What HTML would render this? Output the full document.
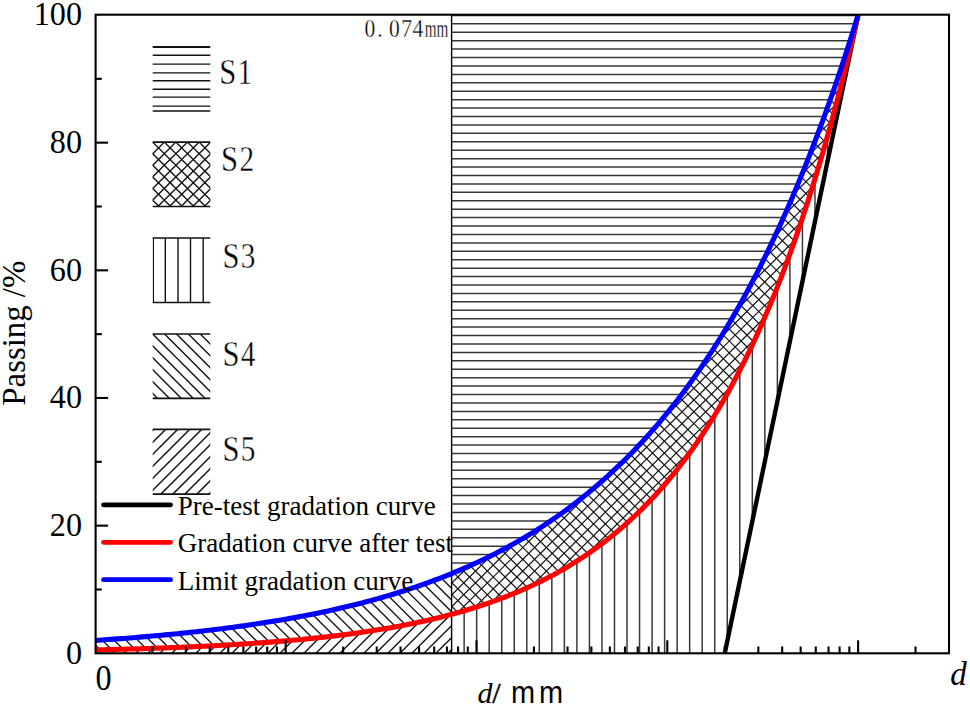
<!DOCTYPE html>
<html>
<head>
<meta charset="utf-8">
<style>
html,body{margin:0;padding:0;background:#fff;}
body{width:970px;height:706px;overflow:hidden;position:relative;}
svg{position:absolute;left:0;top:0;}
.serif{font-family:"Liberation Serif",serif;}
.sans{font-family:"Liberation Sans",sans-serif;}
</style>
</head>
<body>
<svg width="970" height="706" viewBox="0 0 970 706">
<rect x="0" y="0" width="970" height="706" fill="#fff"/>
<defs>
<clipPath id="c1"><polygon points="451.60,15.00 451.55,573.58 454.94,572.18 458.33,570.77 461.71,569.32 465.10,567.85 468.49,566.36 471.88,564.84 475.26,563.29 478.65,561.72 482.04,560.12 485.43,558.49 488.82,556.83 492.20,555.14 495.59,553.43 498.98,551.68 502.37,549.90 505.76,548.09 509.14,546.25 512.53,544.38 515.92,542.48 519.31,540.54 522.70,538.57 526.08,536.56 529.47,534.52 532.86,532.44 536.25,530.33 539.64,528.18 543.02,525.99 546.41,523.77 549.80,521.50 553.19,519.20 556.57,516.85 559.96,514.47 563.35,512.04 566.74,509.57 570.13,507.05 573.51,504.50 576.90,501.89 580.29,499.25 583.68,496.55 587.07,493.81 590.45,491.02 593.84,488.19 597.23,485.30 600.62,482.36 604.01,479.37 607.39,476.33 610.78,473.24 614.17,470.09 617.56,466.88 620.95,463.62 624.33,460.31 627.72,456.93 631.11,453.50 634.50,450.00 637.89,446.45 641.27,442.83 644.66,439.15 648.05,435.41 651.44,431.60 654.82,427.72 658.21,423.77 661.60,419.76 664.99,415.68 668.38,411.52 671.76,407.29 675.15,402.99 678.54,398.62 681.93,394.16 685.32,389.63 688.70,385.02 692.09,380.33 695.48,375.55 698.87,370.70 702.26,365.76 705.64,360.73 709.03,355.61 712.42,350.41 715.81,345.11 719.20,339.72 722.58,334.24 725.97,328.66 729.36,322.98 732.75,317.20 736.13,311.33 739.52,305.35 742.91,299.26 746.30,293.07 749.69,286.77 753.07,280.36 756.46,273.84 759.85,267.21 763.24,260.46 766.63,253.59 770.01,246.60 773.40,239.48 776.79,232.25 780.18,224.89 783.57,217.39 786.95,209.77 790.34,202.02 793.73,194.12 797.12,186.09 800.51,177.92 803.89,169.61 807.28,161.15 810.67,152.55 814.06,143.79 817.44,134.88 820.83,125.82 824.22,116.59 827.61,107.21 831.00,97.66 834.38,87.94 837.77,78.06 841.16,68.00 844.55,57.76 847.94,47.35 851.32,36.75 854.71,25.97 858.10,15.00 858.10,15.00"/></clipPath>
<clipPath id="c2"><polygon points="451.55,573.58 454.94,572.18 458.33,570.77 461.71,569.32 465.10,567.85 468.49,566.36 471.88,564.84 475.26,563.29 478.65,561.72 482.04,560.12 485.43,558.49 488.82,556.83 492.20,555.14 495.59,553.43 498.98,551.68 502.37,549.90 505.76,548.09 509.14,546.25 512.53,544.38 515.92,542.48 519.31,540.54 522.70,538.57 526.08,536.56 529.47,534.52 532.86,532.44 536.25,530.33 539.64,528.18 543.02,525.99 546.41,523.77 549.80,521.50 553.19,519.20 556.57,516.85 559.96,514.47 563.35,512.04 566.74,509.57 570.13,507.05 573.51,504.50 576.90,501.89 580.29,499.25 583.68,496.55 587.07,493.81 590.45,491.02 593.84,488.19 597.23,485.30 600.62,482.36 604.01,479.37 607.39,476.33 610.78,473.24 614.17,470.09 617.56,466.88 620.95,463.62 624.33,460.31 627.72,456.93 631.11,453.50 634.50,450.00 637.89,446.45 641.27,442.83 644.66,439.15 648.05,435.41 651.44,431.60 654.82,427.72 658.21,423.77 661.60,419.76 664.99,415.68 668.38,411.52 671.76,407.29 675.15,402.99 678.54,398.62 681.93,394.16 685.32,389.63 688.70,385.02 692.09,380.33 695.48,375.55 698.87,370.70 702.26,365.76 705.64,360.73 709.03,355.61 712.42,350.41 715.81,345.11 719.20,339.72 722.58,334.24 725.97,328.66 729.36,322.98 732.75,317.20 736.13,311.33 739.52,305.35 742.91,299.26 746.30,293.07 749.69,286.77 753.07,280.36 756.46,273.84 759.85,267.21 763.24,260.46 766.63,253.59 770.01,246.60 773.40,239.48 776.79,232.25 780.18,224.89 783.57,217.39 786.95,209.77 790.34,202.02 793.73,194.12 797.12,186.09 800.51,177.92 803.89,169.61 807.28,161.15 810.67,152.55 814.06,143.79 817.44,134.88 820.83,125.82 824.22,116.59 827.61,107.21 831.00,97.66 834.38,87.94 837.77,78.06 841.16,68.00 844.55,57.76 847.94,47.35 851.32,36.75 854.71,25.97 858.10,15.00 858.10,15.00 854.71,29.70 851.32,44.07 847.94,58.10 844.55,71.81 841.16,85.21 837.77,98.29 834.38,111.08 831.00,123.57 827.61,135.77 824.22,147.69 820.83,159.34 817.44,170.72 814.06,181.83 810.67,192.69 807.28,203.31 803.89,213.67 800.51,223.80 797.12,233.69 793.73,243.36 790.34,252.80 786.95,262.03 783.57,271.04 780.18,279.84 776.79,288.45 773.40,296.85 770.01,305.06 766.63,313.08 763.24,320.92 759.85,328.58 756.46,336.06 753.07,343.37 749.69,350.51 746.30,357.48 742.91,364.29 739.52,370.95 736.13,377.46 732.75,383.81 729.36,390.02 725.97,396.08 722.58,402.01 719.20,407.80 715.81,413.45 712.42,418.98 709.03,424.37 705.64,429.65 702.26,434.80 698.87,439.83 695.48,444.75 692.09,449.55 688.70,454.25 685.32,458.83 681.93,463.31 678.54,467.69 675.15,471.96 671.76,476.14 668.38,480.22 664.99,484.21 661.60,488.10 658.21,491.91 654.82,495.63 651.44,499.26 648.05,502.81 644.66,506.27 641.27,509.66 637.89,512.97 634.50,516.20 631.11,519.36 627.72,522.45 624.33,525.46 620.95,528.41 617.56,531.28 614.17,534.09 610.78,536.84 607.39,539.52 604.01,542.14 600.62,544.70 597.23,547.20 593.84,549.65 590.45,552.04 587.07,554.37 583.68,556.65 580.29,558.87 576.90,561.05 573.51,563.17 570.13,565.25 566.74,567.28 563.35,569.26 559.96,571.20 556.57,573.09 553.19,574.94 549.80,576.74 546.41,578.50 543.02,580.23 539.64,581.91 536.25,583.55 532.86,585.16 529.47,586.73 526.08,588.26 522.70,589.76 519.31,591.23 515.92,592.66 512.53,594.05 509.14,595.42 505.76,596.75 502.37,598.05 498.98,599.33 495.59,600.57 492.20,601.78 488.82,602.97 485.43,604.13 482.04,605.26 478.65,606.37 475.26,607.45 471.88,608.51 468.49,609.54 465.10,610.55 461.71,611.53 458.33,612.49 454.94,613.43 451.55,614.35"/></clipPath>
<clipPath id="c3"><polygon points="451.60,653.30 451.55,614.35 454.94,613.43 458.33,612.49 461.71,611.53 465.10,610.55 468.49,609.54 471.88,608.51 475.26,607.45 478.65,606.37 482.04,605.26 485.43,604.13 488.82,602.97 492.20,601.78 495.59,600.57 498.98,599.33 502.37,598.05 505.76,596.75 509.14,595.42 512.53,594.05 515.92,592.66 519.31,591.23 522.70,589.76 526.08,588.26 529.47,586.73 532.86,585.16 536.25,583.55 539.64,581.91 543.02,580.23 546.41,578.50 549.80,576.74 553.19,574.94 556.57,573.09 559.96,571.20 563.35,569.26 566.74,567.28 570.13,565.25 573.51,563.17 576.90,561.05 580.29,558.87 583.68,556.65 587.07,554.37 590.45,552.04 593.84,549.65 597.23,547.20 600.62,544.70 604.01,542.14 607.39,539.52 610.78,536.84 614.17,534.09 617.56,531.28 620.95,528.41 624.33,525.46 627.72,522.45 631.11,519.36 634.50,516.20 637.89,512.97 641.27,509.66 644.66,506.27 648.05,502.81 651.44,499.26 654.82,495.63 658.21,491.91 661.60,488.10 664.99,484.21 668.38,480.22 671.76,476.14 675.15,471.96 678.54,467.69 681.93,463.31 685.32,458.83 688.70,454.25 692.09,449.55 695.48,444.75 698.87,439.83 702.26,434.80 705.64,429.65 709.03,424.37 712.42,418.98 715.81,413.45 719.20,407.80 722.58,402.01 725.97,396.08 729.36,390.02 732.75,383.81 736.13,377.46 739.52,370.95 742.91,364.29 746.30,357.48 749.69,350.51 753.07,343.37 756.46,336.06 759.85,328.58 763.24,320.92 766.63,313.08 770.01,305.06 773.40,296.85 776.79,288.45 780.18,279.84 783.57,271.04 786.95,262.03 790.34,252.80 793.73,243.36 797.12,233.69 800.51,223.80 803.89,213.67 807.28,203.31 810.67,192.69 814.06,181.83 817.44,170.72 820.83,159.34 824.22,147.69 827.61,135.77 831.00,123.57 834.38,111.08 837.77,98.29 841.16,85.21 844.55,71.81 847.94,58.10 851.32,44.07 854.71,29.70 858.10,15.00 724.74,653.30"/></clipPath>
<clipPath id="c4"><polygon points="94.90,640.45 97.87,640.25 100.84,640.05 103.82,639.85 106.79,639.64 109.76,639.43 112.73,639.22 115.70,639.00 118.68,638.78 121.65,638.56 124.62,638.34 127.59,638.11 130.56,637.87 133.54,637.64 136.51,637.40 139.48,637.15 142.45,636.91 145.43,636.65 148.40,636.40 151.37,636.14 154.34,635.88 157.31,635.61 160.29,635.34 163.26,635.06 166.23,634.78 169.20,634.50 172.17,634.21 175.15,633.92 178.12,633.62 181.09,633.32 184.06,633.02 187.03,632.70 190.01,632.39 192.98,632.07 195.95,631.74 198.92,631.41 201.89,631.08 204.87,630.74 207.84,630.39 210.81,630.04 213.78,629.68 216.76,629.32 219.73,628.95 222.70,628.58 225.67,628.20 228.64,627.82 231.62,627.43 234.59,627.03 237.56,626.63 240.53,626.22 243.50,625.80 246.48,625.38 249.45,624.96 252.42,624.52 255.39,624.08 258.36,623.63 261.34,623.18 264.31,622.72 267.28,622.25 270.25,621.77 273.22,621.29 276.20,620.80 279.17,620.30 282.14,619.79 285.11,619.28 288.09,618.76 291.06,618.23 294.03,617.69 297.00,617.15 299.97,616.59 302.95,616.03 305.92,615.46 308.89,614.88 311.86,614.29 314.83,613.69 317.81,613.09 320.78,612.47 323.75,611.84 326.72,611.21 329.69,610.56 332.67,609.91 335.64,609.24 338.61,608.57 341.58,607.88 344.55,607.19 347.53,606.48 350.50,605.76 353.47,605.04 356.44,604.30 359.41,603.55 362.39,602.78 365.36,602.01 368.33,601.22 371.30,600.42 374.28,599.61 377.25,598.79 380.22,597.96 383.19,597.11 386.16,596.25 389.14,595.37 392.11,594.49 395.08,593.58 398.05,592.67 401.02,591.74 404.00,590.80 406.97,589.84 409.94,588.87 412.91,587.88 415.88,586.88 418.86,585.86 421.83,584.82 424.80,583.78 427.77,582.71 430.74,581.63 433.72,580.53 436.69,579.42 439.66,578.28 442.63,577.13 445.61,575.97 448.58,574.78 451.55,573.58 451.55,614.35 448.58,615.14 445.61,615.91 442.63,616.67 439.66,617.41 436.69,618.14 433.72,618.85 430.74,619.55 427.77,620.23 424.80,620.90 421.83,621.55 418.86,622.20 415.88,622.83 412.91,623.44 409.94,624.05 406.97,624.64 404.00,625.22 401.02,625.79 398.05,626.34 395.08,626.89 392.11,627.42 389.14,627.95 386.16,628.46 383.19,628.96 380.22,629.46 377.25,629.94 374.28,630.41 371.30,630.87 368.33,631.33 365.36,631.77 362.39,632.21 359.41,632.63 356.44,633.05 353.47,633.46 350.50,633.86 347.53,634.26 344.55,634.64 341.58,635.02 338.61,635.39 335.64,635.75 332.67,636.11 329.69,636.46 326.72,636.80 323.75,637.13 320.78,637.46 317.81,637.78 314.83,638.09 311.86,638.40 308.89,638.70 305.92,639.00 302.95,639.29 299.97,639.57 297.00,639.85 294.03,640.12 291.06,640.39 288.09,640.65 285.11,640.90 282.14,641.16 279.17,641.40 276.20,641.64 273.22,641.88 270.25,642.11 267.28,642.34 264.31,642.56 261.34,642.77 258.36,642.99 255.39,643.20 252.42,643.40 249.45,643.60 246.48,643.80 243.50,643.99 240.53,644.18 237.56,644.36 234.59,644.54 231.62,644.72 228.64,644.89 225.67,645.06 222.70,645.23 219.73,645.39 216.76,645.55 213.78,645.71 210.81,645.86 207.84,646.02 204.87,646.16 201.89,646.31 198.92,646.45 195.95,646.59 192.98,646.72 190.01,646.86 187.03,646.99 184.06,647.11 181.09,647.24 178.12,647.36 175.15,647.48 172.17,647.60 169.20,647.72 166.23,647.83 163.26,647.94 160.29,648.05 157.31,648.15 154.34,648.26 151.37,648.36 148.40,648.46 145.43,648.56 142.45,648.65 139.48,648.75 136.51,648.84 133.54,648.93 130.56,649.02 127.59,649.11 124.62,649.19 121.65,649.27 118.68,649.35 115.70,649.43 112.73,649.51 109.76,649.59 106.79,649.66 103.82,649.74 100.84,649.81 97.87,649.88 94.90,649.95"/></clipPath>
<clipPath id="c5"><polygon points="94.90,653.30 94.90,649.95 97.87,649.88 100.84,649.81 103.82,649.74 106.79,649.66 109.76,649.59 112.73,649.51 115.70,649.43 118.68,649.35 121.65,649.27 124.62,649.19 127.59,649.11 130.56,649.02 133.54,648.93 136.51,648.84 139.48,648.75 142.45,648.65 145.43,648.56 148.40,648.46 151.37,648.36 154.34,648.26 157.31,648.15 160.29,648.05 163.26,647.94 166.23,647.83 169.20,647.72 172.17,647.60 175.15,647.48 178.12,647.36 181.09,647.24 184.06,647.11 187.03,646.99 190.01,646.86 192.98,646.72 195.95,646.59 198.92,646.45 201.89,646.31 204.87,646.16 207.84,646.02 210.81,645.86 213.78,645.71 216.76,645.55 219.73,645.39 222.70,645.23 225.67,645.06 228.64,644.89 231.62,644.72 234.59,644.54 237.56,644.36 240.53,644.18 243.50,643.99 246.48,643.80 249.45,643.60 252.42,643.40 255.39,643.20 258.36,642.99 261.34,642.77 264.31,642.56 267.28,642.34 270.25,642.11 273.22,641.88 276.20,641.64 279.17,641.40 282.14,641.16 285.11,640.90 288.09,640.65 291.06,640.39 294.03,640.12 297.00,639.85 299.97,639.57 302.95,639.29 305.92,639.00 308.89,638.70 311.86,638.40 314.83,638.09 317.81,637.78 320.78,637.46 323.75,637.13 326.72,636.80 329.69,636.46 332.67,636.11 335.64,635.75 338.61,635.39 341.58,635.02 344.55,634.64 347.53,634.26 350.50,633.86 353.47,633.46 356.44,633.05 359.41,632.63 362.39,632.21 365.36,631.77 368.33,631.33 371.30,630.87 374.28,630.41 377.25,629.94 380.22,629.46 383.19,628.96 386.16,628.46 389.14,627.95 392.11,627.42 395.08,626.89 398.05,626.34 401.02,625.79 404.00,625.22 406.97,624.64 409.94,624.05 412.91,623.44 415.88,622.83 418.86,622.20 421.83,621.55 424.80,620.90 427.77,620.23 430.74,619.55 433.72,618.85 436.69,618.14 439.66,617.41 442.63,616.67 445.61,615.91 448.58,615.14 451.55,614.35 451.60,653.30"/></clipPath>
</defs>
<g clip-path="url(#c1)" stroke="#383838" stroke-width="1.5">
<line x1="451.60" y1="15.40" x2="860.10" y2="15.40"/>
<line x1="451.60" y1="23.83" x2="860.10" y2="23.83"/>
<line x1="451.60" y1="32.25" x2="860.10" y2="32.25"/>
<line x1="451.60" y1="40.68" x2="860.10" y2="40.68"/>
<line x1="451.60" y1="49.10" x2="860.10" y2="49.10"/>
<line x1="451.60" y1="57.52" x2="860.10" y2="57.52"/>
<line x1="451.60" y1="65.95" x2="860.10" y2="65.95"/>
<line x1="451.60" y1="74.38" x2="860.10" y2="74.38"/>
<line x1="451.60" y1="82.80" x2="860.10" y2="82.80"/>
<line x1="451.60" y1="91.23" x2="860.10" y2="91.23"/>
<line x1="451.60" y1="99.65" x2="860.10" y2="99.65"/>
<line x1="451.60" y1="108.08" x2="860.10" y2="108.08"/>
<line x1="451.60" y1="116.50" x2="860.10" y2="116.50"/>
<line x1="451.60" y1="124.93" x2="860.10" y2="124.93"/>
<line x1="451.60" y1="133.35" x2="860.10" y2="133.35"/>
<line x1="451.60" y1="141.78" x2="860.10" y2="141.78"/>
<line x1="451.60" y1="150.20" x2="860.10" y2="150.20"/>
<line x1="451.60" y1="158.63" x2="860.10" y2="158.63"/>
<line x1="451.60" y1="167.05" x2="860.10" y2="167.05"/>
<line x1="451.60" y1="175.48" x2="860.10" y2="175.48"/>
<line x1="451.60" y1="183.90" x2="860.10" y2="183.90"/>
<line x1="451.60" y1="192.33" x2="860.10" y2="192.33"/>
<line x1="451.60" y1="200.75" x2="860.10" y2="200.75"/>
<line x1="451.60" y1="209.18" x2="860.10" y2="209.18"/>
<line x1="451.60" y1="217.60" x2="860.10" y2="217.60"/>
<line x1="451.60" y1="226.03" x2="860.10" y2="226.03"/>
<line x1="451.60" y1="234.45" x2="860.10" y2="234.45"/>
<line x1="451.60" y1="242.88" x2="860.10" y2="242.88"/>
<line x1="451.60" y1="251.30" x2="860.10" y2="251.30"/>
<line x1="451.60" y1="259.73" x2="860.10" y2="259.73"/>
<line x1="451.60" y1="268.15" x2="860.10" y2="268.15"/>
<line x1="451.60" y1="276.57" x2="860.10" y2="276.57"/>
<line x1="451.60" y1="285.00" x2="860.10" y2="285.00"/>
<line x1="451.60" y1="293.43" x2="860.10" y2="293.43"/>
<line x1="451.60" y1="301.85" x2="860.10" y2="301.85"/>
<line x1="451.60" y1="310.27" x2="860.10" y2="310.27"/>
<line x1="451.60" y1="318.70" x2="860.10" y2="318.70"/>
<line x1="451.60" y1="327.12" x2="860.10" y2="327.12"/>
<line x1="451.60" y1="335.55" x2="860.10" y2="335.55"/>
<line x1="451.60" y1="343.98" x2="860.10" y2="343.98"/>
<line x1="451.60" y1="352.40" x2="860.10" y2="352.40"/>
<line x1="451.60" y1="360.82" x2="860.10" y2="360.82"/>
<line x1="451.60" y1="369.25" x2="860.10" y2="369.25"/>
<line x1="451.60" y1="377.68" x2="860.10" y2="377.68"/>
<line x1="451.60" y1="386.10" x2="860.10" y2="386.10"/>
<line x1="451.60" y1="394.53" x2="860.10" y2="394.53"/>
<line x1="451.60" y1="402.95" x2="860.10" y2="402.95"/>
<line x1="451.60" y1="411.38" x2="860.10" y2="411.38"/>
<line x1="451.60" y1="419.80" x2="860.10" y2="419.80"/>
<line x1="451.60" y1="428.23" x2="860.10" y2="428.23"/>
<line x1="451.60" y1="436.65" x2="860.10" y2="436.65"/>
<line x1="451.60" y1="445.07" x2="860.10" y2="445.07"/>
<line x1="451.60" y1="453.50" x2="860.10" y2="453.50"/>
<line x1="451.60" y1="461.93" x2="860.10" y2="461.93"/>
<line x1="451.60" y1="470.35" x2="860.10" y2="470.35"/>
<line x1="451.60" y1="478.78" x2="860.10" y2="478.78"/>
<line x1="451.60" y1="487.20" x2="860.10" y2="487.20"/>
<line x1="451.60" y1="495.62" x2="860.10" y2="495.62"/>
<line x1="451.60" y1="504.05" x2="860.10" y2="504.05"/>
<line x1="451.60" y1="512.48" x2="860.10" y2="512.48"/>
<line x1="451.60" y1="520.90" x2="860.10" y2="520.90"/>
<line x1="451.60" y1="529.33" x2="860.10" y2="529.33"/>
<line x1="451.60" y1="537.75" x2="860.10" y2="537.75"/>
<line x1="451.60" y1="546.18" x2="860.10" y2="546.18"/>
<line x1="451.60" y1="554.60" x2="860.10" y2="554.60"/>
<line x1="451.60" y1="563.02" x2="860.10" y2="563.02"/>
<line x1="451.60" y1="571.45" x2="860.10" y2="571.45"/>
<line x1="451.60" y1="579.88" x2="860.10" y2="579.88"/>
<line x1="451.60" y1="588.30" x2="860.10" y2="588.30"/>
<line x1="451.60" y1="596.73" x2="860.10" y2="596.73"/>
<line x1="451.60" y1="605.15" x2="860.10" y2="605.15"/>
<line x1="451.60" y1="613.58" x2="860.10" y2="613.58"/>
<line x1="451.60" y1="622.00" x2="860.10" y2="622.00"/>
<line x1="451.60" y1="630.43" x2="860.10" y2="630.43"/>
<line x1="451.60" y1="638.85" x2="860.10" y2="638.85"/>
<line x1="451.60" y1="647.27" x2="860.10" y2="647.27"/>
</g>
<g clip-path="url(#c2)" stroke="#111" stroke-width="1.2">
<line x1="-196.63" y1="653.30" x2="441.67" y2="15.00"/>
<line x1="-184.83" y1="653.30" x2="453.47" y2="15.00"/>
<line x1="-173.03" y1="653.30" x2="465.27" y2="15.00"/>
<line x1="-161.23" y1="653.30" x2="477.07" y2="15.00"/>
<line x1="-149.43" y1="653.30" x2="488.87" y2="15.00"/>
<line x1="-137.63" y1="653.30" x2="500.67" y2="15.00"/>
<line x1="-125.83" y1="653.30" x2="512.47" y2="15.00"/>
<line x1="-114.03" y1="653.30" x2="524.27" y2="15.00"/>
<line x1="-102.23" y1="653.30" x2="536.07" y2="15.00"/>
<line x1="-90.43" y1="653.30" x2="547.87" y2="15.00"/>
<line x1="-78.63" y1="653.30" x2="559.67" y2="15.00"/>
<line x1="-66.83" y1="653.30" x2="571.47" y2="15.00"/>
<line x1="-55.03" y1="653.30" x2="583.27" y2="15.00"/>
<line x1="-43.23" y1="653.30" x2="595.07" y2="15.00"/>
<line x1="-31.43" y1="653.30" x2="606.87" y2="15.00"/>
<line x1="-19.63" y1="653.30" x2="618.67" y2="15.00"/>
<line x1="-7.83" y1="653.30" x2="630.47" y2="15.00"/>
<line x1="3.97" y1="653.30" x2="642.27" y2="15.00"/>
<line x1="15.77" y1="653.30" x2="654.07" y2="15.00"/>
<line x1="27.57" y1="653.30" x2="665.87" y2="15.00"/>
<line x1="39.37" y1="653.30" x2="677.67" y2="15.00"/>
<line x1="51.17" y1="653.30" x2="689.47" y2="15.00"/>
<line x1="62.97" y1="653.30" x2="701.27" y2="15.00"/>
<line x1="74.77" y1="653.30" x2="713.07" y2="15.00"/>
<line x1="86.57" y1="653.30" x2="724.87" y2="15.00"/>
<line x1="98.37" y1="653.30" x2="736.67" y2="15.00"/>
<line x1="110.17" y1="653.30" x2="748.47" y2="15.00"/>
<line x1="121.97" y1="653.30" x2="760.27" y2="15.00"/>
<line x1="133.77" y1="653.30" x2="772.07" y2="15.00"/>
<line x1="145.57" y1="653.30" x2="783.87" y2="15.00"/>
<line x1="157.37" y1="653.30" x2="795.67" y2="15.00"/>
<line x1="169.17" y1="653.30" x2="807.47" y2="15.00"/>
<line x1="180.97" y1="653.30" x2="819.27" y2="15.00"/>
<line x1="192.77" y1="653.30" x2="831.07" y2="15.00"/>
<line x1="204.57" y1="653.30" x2="842.87" y2="15.00"/>
<line x1="216.37" y1="653.30" x2="854.67" y2="15.00"/>
<line x1="228.17" y1="653.30" x2="866.47" y2="15.00"/>
<line x1="239.97" y1="653.30" x2="878.27" y2="15.00"/>
<line x1="251.77" y1="653.30" x2="890.07" y2="15.00"/>
<line x1="263.57" y1="653.30" x2="901.87" y2="15.00"/>
<line x1="275.37" y1="653.30" x2="913.67" y2="15.00"/>
<line x1="287.17" y1="653.30" x2="925.47" y2="15.00"/>
<line x1="298.97" y1="653.30" x2="937.27" y2="15.00"/>
<line x1="310.77" y1="653.30" x2="949.07" y2="15.00"/>
<line x1="322.57" y1="653.30" x2="960.87" y2="15.00"/>
<line x1="334.37" y1="653.30" x2="972.67" y2="15.00"/>
<line x1="346.17" y1="653.30" x2="984.47" y2="15.00"/>
<line x1="357.97" y1="653.30" x2="996.27" y2="15.00"/>
<line x1="369.77" y1="653.30" x2="1008.07" y2="15.00"/>
<line x1="381.57" y1="653.30" x2="1019.87" y2="15.00"/>
<line x1="393.37" y1="653.30" x2="1031.67" y2="15.00"/>
<line x1="405.17" y1="653.30" x2="1043.47" y2="15.00"/>
<line x1="416.97" y1="653.30" x2="1055.27" y2="15.00"/>
<line x1="428.77" y1="653.30" x2="1067.07" y2="15.00"/>
<line x1="440.57" y1="653.30" x2="1078.87" y2="15.00"/>
<line x1="452.37" y1="653.30" x2="1090.67" y2="15.00"/>
<line x1="464.17" y1="653.30" x2="1102.47" y2="15.00"/>
<line x1="475.97" y1="653.30" x2="1114.27" y2="15.00"/>
<line x1="487.77" y1="653.30" x2="1126.07" y2="15.00"/>
<line x1="499.57" y1="653.30" x2="1137.87" y2="15.00"/>
<line x1="511.37" y1="653.30" x2="1149.67" y2="15.00"/>
<line x1="523.17" y1="653.30" x2="1161.47" y2="15.00"/>
<line x1="534.97" y1="653.30" x2="1173.27" y2="15.00"/>
<line x1="546.77" y1="653.30" x2="1185.07" y2="15.00"/>
<line x1="558.57" y1="653.30" x2="1196.87" y2="15.00"/>
<line x1="570.37" y1="653.30" x2="1208.67" y2="15.00"/>
<line x1="582.17" y1="653.30" x2="1220.47" y2="15.00"/>
<line x1="593.97" y1="653.30" x2="1232.27" y2="15.00"/>
<line x1="605.77" y1="653.30" x2="1244.07" y2="15.00"/>
<line x1="617.57" y1="653.30" x2="1255.87" y2="15.00"/>
<line x1="629.37" y1="653.30" x2="1267.67" y2="15.00"/>
<line x1="641.17" y1="653.30" x2="1279.47" y2="15.00"/>
<line x1="652.97" y1="653.30" x2="1291.27" y2="15.00"/>
<line x1="664.77" y1="653.30" x2="1303.07" y2="15.00"/>
<line x1="676.57" y1="653.30" x2="1314.87" y2="15.00"/>
<line x1="688.37" y1="653.30" x2="1326.67" y2="15.00"/>
<line x1="700.17" y1="653.30" x2="1338.47" y2="15.00"/>
<line x1="711.97" y1="653.30" x2="1350.27" y2="15.00"/>
<line x1="723.77" y1="653.30" x2="1362.07" y2="15.00"/>
<line x1="735.57" y1="653.30" x2="1373.87" y2="15.00"/>
<line x1="747.37" y1="653.30" x2="1385.67" y2="15.00"/>
<line x1="759.17" y1="653.30" x2="1397.47" y2="15.00"/>
<line x1="770.97" y1="653.30" x2="1409.27" y2="15.00"/>
<line x1="782.77" y1="653.30" x2="1421.07" y2="15.00"/>
<line x1="794.57" y1="653.30" x2="1432.87" y2="15.00"/>
<line x1="806.37" y1="653.30" x2="1444.67" y2="15.00"/>
<line x1="818.17" y1="653.30" x2="1456.47" y2="15.00"/>
<line x1="829.97" y1="653.30" x2="1468.27" y2="15.00"/>
<line x1="841.77" y1="653.30" x2="1480.07" y2="15.00"/>
<line x1="853.57" y1="653.30" x2="1491.87" y2="15.00"/>
<line x1="-186.73" y1="15.00" x2="451.57" y2="653.30"/>
<line x1="-174.93" y1="15.00" x2="463.37" y2="653.30"/>
<line x1="-163.13" y1="15.00" x2="475.17" y2="653.30"/>
<line x1="-151.33" y1="15.00" x2="486.97" y2="653.30"/>
<line x1="-139.53" y1="15.00" x2="498.77" y2="653.30"/>
<line x1="-127.73" y1="15.00" x2="510.57" y2="653.30"/>
<line x1="-115.93" y1="15.00" x2="522.37" y2="653.30"/>
<line x1="-104.13" y1="15.00" x2="534.17" y2="653.30"/>
<line x1="-92.33" y1="15.00" x2="545.97" y2="653.30"/>
<line x1="-80.53" y1="15.00" x2="557.77" y2="653.30"/>
<line x1="-68.73" y1="15.00" x2="569.57" y2="653.30"/>
<line x1="-56.93" y1="15.00" x2="581.37" y2="653.30"/>
<line x1="-45.13" y1="15.00" x2="593.17" y2="653.30"/>
<line x1="-33.33" y1="15.00" x2="604.97" y2="653.30"/>
<line x1="-21.53" y1="15.00" x2="616.77" y2="653.30"/>
<line x1="-9.73" y1="15.00" x2="628.57" y2="653.30"/>
<line x1="2.07" y1="15.00" x2="640.37" y2="653.30"/>
<line x1="13.87" y1="15.00" x2="652.17" y2="653.30"/>
<line x1="25.67" y1="15.00" x2="663.97" y2="653.30"/>
<line x1="37.47" y1="15.00" x2="675.77" y2="653.30"/>
<line x1="49.27" y1="15.00" x2="687.57" y2="653.30"/>
<line x1="61.07" y1="15.00" x2="699.37" y2="653.30"/>
<line x1="72.87" y1="15.00" x2="711.17" y2="653.30"/>
<line x1="84.67" y1="15.00" x2="722.97" y2="653.30"/>
<line x1="96.47" y1="15.00" x2="734.77" y2="653.30"/>
<line x1="108.27" y1="15.00" x2="746.57" y2="653.30"/>
<line x1="120.07" y1="15.00" x2="758.37" y2="653.30"/>
<line x1="131.87" y1="15.00" x2="770.17" y2="653.30"/>
<line x1="143.67" y1="15.00" x2="781.97" y2="653.30"/>
<line x1="155.47" y1="15.00" x2="793.77" y2="653.30"/>
<line x1="167.27" y1="15.00" x2="805.57" y2="653.30"/>
<line x1="179.07" y1="15.00" x2="817.37" y2="653.30"/>
<line x1="190.87" y1="15.00" x2="829.17" y2="653.30"/>
<line x1="202.67" y1="15.00" x2="840.97" y2="653.30"/>
<line x1="214.47" y1="15.00" x2="852.77" y2="653.30"/>
<line x1="226.27" y1="15.00" x2="864.57" y2="653.30"/>
<line x1="238.07" y1="15.00" x2="876.37" y2="653.30"/>
<line x1="249.87" y1="15.00" x2="888.17" y2="653.30"/>
<line x1="261.67" y1="15.00" x2="899.97" y2="653.30"/>
<line x1="273.47" y1="15.00" x2="911.77" y2="653.30"/>
<line x1="285.27" y1="15.00" x2="923.57" y2="653.30"/>
<line x1="297.07" y1="15.00" x2="935.37" y2="653.30"/>
<line x1="308.87" y1="15.00" x2="947.17" y2="653.30"/>
<line x1="320.67" y1="15.00" x2="958.97" y2="653.30"/>
<line x1="332.47" y1="15.00" x2="970.77" y2="653.30"/>
<line x1="344.27" y1="15.00" x2="982.57" y2="653.30"/>
<line x1="356.07" y1="15.00" x2="994.37" y2="653.30"/>
<line x1="367.87" y1="15.00" x2="1006.17" y2="653.30"/>
<line x1="379.67" y1="15.00" x2="1017.97" y2="653.30"/>
<line x1="391.47" y1="15.00" x2="1029.77" y2="653.30"/>
<line x1="403.27" y1="15.00" x2="1041.57" y2="653.30"/>
<line x1="415.07" y1="15.00" x2="1053.37" y2="653.30"/>
<line x1="426.87" y1="15.00" x2="1065.17" y2="653.30"/>
<line x1="438.67" y1="15.00" x2="1076.97" y2="653.30"/>
<line x1="450.47" y1="15.00" x2="1088.77" y2="653.30"/>
<line x1="462.27" y1="15.00" x2="1100.57" y2="653.30"/>
<line x1="474.07" y1="15.00" x2="1112.37" y2="653.30"/>
<line x1="485.87" y1="15.00" x2="1124.17" y2="653.30"/>
<line x1="497.67" y1="15.00" x2="1135.97" y2="653.30"/>
<line x1="509.47" y1="15.00" x2="1147.77" y2="653.30"/>
<line x1="521.27" y1="15.00" x2="1159.57" y2="653.30"/>
<line x1="533.07" y1="15.00" x2="1171.37" y2="653.30"/>
<line x1="544.87" y1="15.00" x2="1183.17" y2="653.30"/>
<line x1="556.67" y1="15.00" x2="1194.97" y2="653.30"/>
<line x1="568.47" y1="15.00" x2="1206.77" y2="653.30"/>
<line x1="580.27" y1="15.00" x2="1218.57" y2="653.30"/>
<line x1="592.07" y1="15.00" x2="1230.37" y2="653.30"/>
<line x1="603.87" y1="15.00" x2="1242.17" y2="653.30"/>
<line x1="615.67" y1="15.00" x2="1253.97" y2="653.30"/>
<line x1="627.47" y1="15.00" x2="1265.77" y2="653.30"/>
<line x1="639.27" y1="15.00" x2="1277.57" y2="653.30"/>
<line x1="651.07" y1="15.00" x2="1289.37" y2="653.30"/>
<line x1="662.87" y1="15.00" x2="1301.17" y2="653.30"/>
<line x1="674.67" y1="15.00" x2="1312.97" y2="653.30"/>
<line x1="686.47" y1="15.00" x2="1324.77" y2="653.30"/>
<line x1="698.27" y1="15.00" x2="1336.57" y2="653.30"/>
<line x1="710.07" y1="15.00" x2="1348.37" y2="653.30"/>
<line x1="721.87" y1="15.00" x2="1360.17" y2="653.30"/>
<line x1="733.67" y1="15.00" x2="1371.97" y2="653.30"/>
<line x1="745.47" y1="15.00" x2="1383.77" y2="653.30"/>
<line x1="757.27" y1="15.00" x2="1395.57" y2="653.30"/>
<line x1="769.07" y1="15.00" x2="1407.37" y2="653.30"/>
<line x1="780.87" y1="15.00" x2="1419.17" y2="653.30"/>
<line x1="792.67" y1="15.00" x2="1430.97" y2="653.30"/>
<line x1="804.47" y1="15.00" x2="1442.77" y2="653.30"/>
<line x1="816.27" y1="15.00" x2="1454.57" y2="653.30"/>
<line x1="828.07" y1="15.00" x2="1466.37" y2="653.30"/>
<line x1="839.87" y1="15.00" x2="1478.17" y2="653.30"/>
<line x1="851.67" y1="15.00" x2="1489.97" y2="653.30"/>
</g>
<g clip-path="url(#c3)" stroke="#383838" stroke-width="1.5">
<line x1="464.13" y1="15.00" x2="464.13" y2="653.30"/>
<line x1="476.66" y1="15.00" x2="476.66" y2="653.30"/>
<line x1="489.19" y1="15.00" x2="489.19" y2="653.30"/>
<line x1="501.72" y1="15.00" x2="501.72" y2="653.30"/>
<line x1="514.25" y1="15.00" x2="514.25" y2="653.30"/>
<line x1="526.78" y1="15.00" x2="526.78" y2="653.30"/>
<line x1="539.31" y1="15.00" x2="539.31" y2="653.30"/>
<line x1="551.84" y1="15.00" x2="551.84" y2="653.30"/>
<line x1="564.37" y1="15.00" x2="564.37" y2="653.30"/>
<line x1="576.90" y1="15.00" x2="576.90" y2="653.30"/>
<line x1="589.43" y1="15.00" x2="589.43" y2="653.30"/>
<line x1="601.96" y1="15.00" x2="601.96" y2="653.30"/>
<line x1="614.49" y1="15.00" x2="614.49" y2="653.30"/>
<line x1="627.02" y1="15.00" x2="627.02" y2="653.30"/>
<line x1="639.55" y1="15.00" x2="639.55" y2="653.30"/>
<line x1="652.08" y1="15.00" x2="652.08" y2="653.30"/>
<line x1="664.61" y1="15.00" x2="664.61" y2="653.30"/>
<line x1="677.14" y1="15.00" x2="677.14" y2="653.30"/>
<line x1="689.67" y1="15.00" x2="689.67" y2="653.30"/>
<line x1="702.20" y1="15.00" x2="702.20" y2="653.30"/>
<line x1="714.73" y1="15.00" x2="714.73" y2="653.30"/>
<line x1="727.26" y1="15.00" x2="727.26" y2="653.30"/>
<line x1="739.79" y1="15.00" x2="739.79" y2="653.30"/>
<line x1="752.32" y1="15.00" x2="752.32" y2="653.30"/>
<line x1="764.85" y1="15.00" x2="764.85" y2="653.30"/>
<line x1="777.38" y1="15.00" x2="777.38" y2="653.30"/>
<line x1="789.91" y1="15.00" x2="789.91" y2="653.30"/>
<line x1="802.44" y1="15.00" x2="802.44" y2="653.30"/>
<line x1="814.97" y1="15.00" x2="814.97" y2="653.30"/>
<line x1="827.50" y1="15.00" x2="827.50" y2="653.30"/>
<line x1="840.03" y1="15.00" x2="840.03" y2="653.30"/>
<line x1="852.56" y1="15.00" x2="852.56" y2="653.30"/>
</g>
<g clip-path="url(#c4)" stroke="#111" stroke-width="1.35">
<line x1="-61.50" y1="500.00" x2="91.80" y2="653.30"/>
<line x1="-49.70" y1="500.00" x2="103.60" y2="653.30"/>
<line x1="-37.90" y1="500.00" x2="115.40" y2="653.30"/>
<line x1="-26.10" y1="500.00" x2="127.20" y2="653.30"/>
<line x1="-14.30" y1="500.00" x2="139.00" y2="653.30"/>
<line x1="-2.50" y1="500.00" x2="150.80" y2="653.30"/>
<line x1="9.30" y1="500.00" x2="162.60" y2="653.30"/>
<line x1="21.10" y1="500.00" x2="174.40" y2="653.30"/>
<line x1="32.90" y1="500.00" x2="186.20" y2="653.30"/>
<line x1="44.70" y1="500.00" x2="198.00" y2="653.30"/>
<line x1="56.50" y1="500.00" x2="209.80" y2="653.30"/>
<line x1="68.30" y1="500.00" x2="221.60" y2="653.30"/>
<line x1="80.10" y1="500.00" x2="233.40" y2="653.30"/>
<line x1="91.90" y1="500.00" x2="245.20" y2="653.30"/>
<line x1="103.70" y1="500.00" x2="257.00" y2="653.30"/>
<line x1="115.50" y1="500.00" x2="268.80" y2="653.30"/>
<line x1="127.30" y1="500.00" x2="280.60" y2="653.30"/>
<line x1="139.10" y1="500.00" x2="292.40" y2="653.30"/>
<line x1="150.90" y1="500.00" x2="304.20" y2="653.30"/>
<line x1="162.70" y1="500.00" x2="316.00" y2="653.30"/>
<line x1="174.50" y1="500.00" x2="327.80" y2="653.30"/>
<line x1="186.30" y1="500.00" x2="339.60" y2="653.30"/>
<line x1="198.10" y1="500.00" x2="351.40" y2="653.30"/>
<line x1="209.90" y1="500.00" x2="363.20" y2="653.30"/>
<line x1="221.70" y1="500.00" x2="375.00" y2="653.30"/>
<line x1="233.50" y1="500.00" x2="386.80" y2="653.30"/>
<line x1="245.30" y1="500.00" x2="398.60" y2="653.30"/>
<line x1="257.10" y1="500.00" x2="410.40" y2="653.30"/>
<line x1="268.90" y1="500.00" x2="422.20" y2="653.30"/>
<line x1="280.70" y1="500.00" x2="434.00" y2="653.30"/>
<line x1="292.50" y1="500.00" x2="445.80" y2="653.30"/>
<line x1="304.30" y1="500.00" x2="457.60" y2="653.30"/>
<line x1="316.10" y1="500.00" x2="469.40" y2="653.30"/>
<line x1="327.90" y1="500.00" x2="481.20" y2="653.30"/>
<line x1="339.70" y1="500.00" x2="493.00" y2="653.30"/>
<line x1="351.50" y1="500.00" x2="504.80" y2="653.30"/>
<line x1="363.30" y1="500.00" x2="516.60" y2="653.30"/>
<line x1="375.10" y1="500.00" x2="528.40" y2="653.30"/>
<line x1="386.90" y1="500.00" x2="540.20" y2="653.30"/>
<line x1="398.70" y1="500.00" x2="552.00" y2="653.30"/>
<line x1="410.50" y1="500.00" x2="563.80" y2="653.30"/>
<line x1="422.30" y1="500.00" x2="575.60" y2="653.30"/>
<line x1="434.10" y1="500.00" x2="587.40" y2="653.30"/>
<line x1="445.90" y1="500.00" x2="599.20" y2="653.30"/>
</g>
<g clip-path="url(#c5)" stroke="#111" stroke-width="1.35">
<line x1="-8.10" y1="653.30" x2="85.20" y2="560.00"/>
<line x1="3.90" y1="653.30" x2="97.20" y2="560.00"/>
<line x1="15.90" y1="653.30" x2="109.20" y2="560.00"/>
<line x1="27.90" y1="653.30" x2="121.20" y2="560.00"/>
<line x1="39.90" y1="653.30" x2="133.20" y2="560.00"/>
<line x1="51.90" y1="653.30" x2="145.20" y2="560.00"/>
<line x1="63.90" y1="653.30" x2="157.20" y2="560.00"/>
<line x1="75.90" y1="653.30" x2="169.20" y2="560.00"/>
<line x1="87.90" y1="653.30" x2="181.20" y2="560.00"/>
<line x1="99.90" y1="653.30" x2="193.20" y2="560.00"/>
<line x1="111.90" y1="653.30" x2="205.20" y2="560.00"/>
<line x1="123.90" y1="653.30" x2="217.20" y2="560.00"/>
<line x1="135.90" y1="653.30" x2="229.20" y2="560.00"/>
<line x1="147.90" y1="653.30" x2="241.20" y2="560.00"/>
<line x1="159.90" y1="653.30" x2="253.20" y2="560.00"/>
<line x1="171.90" y1="653.30" x2="265.20" y2="560.00"/>
<line x1="183.90" y1="653.30" x2="277.20" y2="560.00"/>
<line x1="195.90" y1="653.30" x2="289.20" y2="560.00"/>
<line x1="207.90" y1="653.30" x2="301.20" y2="560.00"/>
<line x1="219.90" y1="653.30" x2="313.20" y2="560.00"/>
<line x1="231.90" y1="653.30" x2="325.20" y2="560.00"/>
<line x1="243.90" y1="653.30" x2="337.20" y2="560.00"/>
<line x1="255.90" y1="653.30" x2="349.20" y2="560.00"/>
<line x1="267.90" y1="653.30" x2="361.20" y2="560.00"/>
<line x1="279.90" y1="653.30" x2="373.20" y2="560.00"/>
<line x1="291.90" y1="653.30" x2="385.20" y2="560.00"/>
<line x1="303.90" y1="653.30" x2="397.20" y2="560.00"/>
<line x1="315.90" y1="653.30" x2="409.20" y2="560.00"/>
<line x1="327.90" y1="653.30" x2="421.20" y2="560.00"/>
<line x1="339.90" y1="653.30" x2="433.20" y2="560.00"/>
<line x1="351.90" y1="653.30" x2="445.20" y2="560.00"/>
<line x1="363.90" y1="653.30" x2="457.20" y2="560.00"/>
<line x1="375.90" y1="653.30" x2="469.20" y2="560.00"/>
<line x1="387.90" y1="653.30" x2="481.20" y2="560.00"/>
<line x1="399.90" y1="653.30" x2="493.20" y2="560.00"/>
<line x1="411.90" y1="653.30" x2="505.20" y2="560.00"/>
<line x1="423.90" y1="653.30" x2="517.20" y2="560.00"/>
<line x1="435.90" y1="653.30" x2="529.20" y2="560.00"/>
<line x1="447.90" y1="653.30" x2="541.20" y2="560.00"/>
</g>
<line x1="451.60" y1="15.00" x2="451.60" y2="653.30" stroke="#000" stroke-width="1.4"/>
<line x1="724.74" y1="653.30" x2="858.10" y2="15.00" stroke="#000" stroke-width="4.4"/>
<polyline fill="none" stroke="#ff0000" stroke-width="5.1" points="94.90,649.95 98.08,649.88 101.26,649.80 104.44,649.72 107.62,649.64 110.80,649.56 113.98,649.48 117.16,649.40 120.34,649.31 123.52,649.22 126.70,649.13 129.88,649.04 133.06,648.94 136.24,648.85 139.42,648.75 142.60,648.65 145.78,648.55 148.96,648.44 152.14,648.33 155.32,648.22 158.50,648.11 161.68,648.00 164.86,647.88 168.04,647.76 171.22,647.64 174.40,647.51 177.58,647.38 180.76,647.25 183.94,647.12 187.12,646.98 190.30,646.84 193.48,646.70 196.66,646.55 199.84,646.41 203.02,646.25 206.20,646.10 209.38,645.94 212.56,645.77 215.74,645.61 218.92,645.44 222.10,645.26 225.28,645.09 228.46,644.90 231.64,644.72 234.82,644.53 238.00,644.34 241.18,644.14 244.36,643.93 247.54,643.73 250.72,643.52 253.90,643.30 257.08,643.08 260.26,642.85 263.44,642.62 266.62,642.38 269.80,642.14 272.98,641.90 276.16,641.64 279.34,641.39 282.52,641.12 285.70,640.85 288.88,640.58 292.06,640.30 295.24,640.01 298.42,639.72 301.60,639.42 304.78,639.11 307.96,638.79 311.14,638.47 314.32,638.15 317.50,637.81 320.68,637.47 323.86,637.12 327.04,636.76 330.22,636.39 333.40,636.02 336.58,635.64 339.76,635.25 342.94,634.85 346.12,634.44 349.30,634.02 352.48,633.60 355.66,633.16 358.84,632.72 362.02,632.26 365.20,631.80 368.38,631.32 371.56,630.83 374.74,630.34 377.92,629.83 381.10,629.31 384.28,628.78 387.46,628.24 390.64,627.68 393.82,627.12 397.00,626.54 400.18,625.95 403.36,625.34 406.54,624.72 409.72,624.09 412.90,623.44 416.08,622.78 419.26,622.11 422.44,621.42 425.62,620.71 428.80,619.99 431.98,619.26 435.16,618.50 438.34,617.73 441.52,616.95 444.70,616.14 447.88,615.32 451.06,614.48 454.24,613.62 457.42,612.75 460.60,611.85 463.78,610.93 466.96,610.00 470.14,609.04 473.32,608.06 476.50,607.06 479.68,606.04 482.86,604.99 486.04,603.92 489.22,602.83 492.40,601.71 495.58,600.57 498.76,599.41 501.94,598.22 505.12,597.00 508.30,595.75 511.48,594.48 514.66,593.18 517.84,591.85 521.02,590.49 524.20,589.10 527.38,587.68 530.56,586.23 533.74,584.75 536.92,583.23 540.10,581.68 543.28,580.10 546.46,578.48 549.64,576.82 552.82,575.13 556.00,573.40 559.18,571.64 562.36,569.83 565.54,567.99 568.72,566.10 571.90,564.17 575.08,562.20 578.26,560.18 581.44,558.12 584.62,556.02 587.80,553.87 590.98,551.67 594.16,549.42 597.34,547.12 600.52,544.78 603.70,542.38 606.88,539.92 610.06,537.42 613.24,534.85 616.42,532.23 619.60,529.56 622.78,526.82 625.96,524.02 629.14,521.16 632.32,518.24 635.50,515.25 638.68,512.20 641.86,509.08 645.04,505.89 648.22,502.63 651.40,499.30 654.58,495.89 657.76,492.41 660.94,488.85 664.12,485.22 667.30,481.50 670.48,477.70 673.66,473.82 676.84,469.85 680.02,465.79 683.20,461.64 686.38,457.40 689.56,453.07 692.74,448.64 695.92,444.12 699.10,439.49 702.28,434.76 705.46,429.93 708.64,424.99 711.82,419.94 715.00,414.78 718.18,409.50 721.36,404.11 724.54,398.60 727.72,392.97 730.90,387.21 734.08,381.33 737.26,375.31 740.44,369.16 743.62,362.88 746.80,356.46 749.98,349.89 753.16,343.18 756.34,336.33 759.52,329.32 762.70,322.15 765.88,314.83 769.06,307.34 772.24,299.69 775.42,291.87 778.60,283.88 781.78,275.71 784.96,267.36 788.14,258.82 791.32,250.10 794.50,241.18 797.68,232.06 800.86,222.75 804.04,213.23 807.22,203.49 810.40,193.55 813.58,183.38 816.76,172.99 819.94,162.36 823.12,151.51 826.30,140.41 829.48,129.07 832.66,117.47 835.84,105.62 839.02,93.51 842.20,81.13 845.38,68.48 848.56,55.54 851.74,42.32 854.92,28.81 858.10,15.00"/>
<polyline fill="none" stroke="#0000ff" stroke-width="5.1" points="94.90,640.45 98.08,640.24 101.26,640.02 104.44,639.80 107.62,639.58 110.80,639.36 113.98,639.13 117.16,638.90 120.34,638.66 123.52,638.42 126.70,638.18 129.88,637.93 133.06,637.67 136.24,637.42 139.42,637.16 142.60,636.89 145.78,636.62 148.96,636.35 152.14,636.07 155.32,635.79 158.50,635.50 161.68,635.21 164.86,634.91 168.04,634.61 171.22,634.31 174.40,633.99 177.58,633.68 180.76,633.36 183.94,633.03 187.12,632.70 190.30,632.36 193.48,632.01 196.66,631.66 199.84,631.31 203.02,630.95 206.20,630.58 209.38,630.21 212.56,629.83 215.74,629.45 218.92,629.05 222.10,628.66 225.28,628.25 228.46,627.84 231.64,627.42 234.82,627.00 238.00,626.57 241.18,626.13 244.36,625.68 247.54,625.23 250.72,624.77 253.90,624.30 257.08,623.83 260.26,623.34 263.44,622.85 266.62,622.35 269.80,621.84 272.98,621.33 276.16,620.80 279.34,620.27 282.52,619.73 285.70,619.18 288.88,618.62 292.06,618.05 295.24,617.47 298.42,616.88 301.60,616.29 304.78,615.68 307.96,615.06 311.14,614.44 314.32,613.80 317.50,613.15 320.68,612.49 323.86,611.82 327.04,611.14 330.22,610.45 333.40,609.75 336.58,609.03 339.76,608.31 342.94,607.57 346.12,606.82 349.30,606.05 352.48,605.28 355.66,604.49 358.84,603.69 362.02,602.88 365.20,602.05 368.38,601.21 371.56,600.36 374.74,599.49 377.92,598.60 381.10,597.71 384.28,596.79 387.46,595.87 390.64,594.93 393.82,593.97 397.00,592.99 400.18,592.01 403.36,591.00 406.54,589.98 409.72,588.94 412.90,587.88 416.08,586.81 419.26,585.72 422.44,584.61 425.62,583.48 428.80,582.34 431.98,581.17 435.16,579.99 438.34,578.79 441.52,577.57 444.70,576.32 447.88,575.06 451.06,573.78 454.24,572.47 457.42,571.15 460.60,569.80 463.78,568.43 466.96,567.04 470.14,565.62 473.32,564.18 476.50,562.72 479.68,561.24 482.86,559.73 486.04,558.19 489.22,556.63 492.40,555.04 495.58,553.43 498.76,551.79 501.94,550.13 505.12,548.44 508.30,546.72 511.48,544.97 514.66,543.19 517.84,541.38 521.02,539.55 524.20,537.68 527.38,535.79 530.56,533.86 533.74,531.90 536.92,529.91 540.10,527.88 543.28,525.83 546.46,523.73 549.64,521.61 552.82,519.45 556.00,517.25 559.18,515.02 562.36,512.75 565.54,510.45 568.72,508.10 571.90,505.72 575.08,503.30 578.26,500.84 581.44,498.34 584.62,495.80 587.80,493.21 590.98,490.59 594.16,487.92 597.34,485.20 600.52,482.45 603.70,479.64 606.88,476.79 610.06,473.90 613.24,470.96 616.42,467.96 619.60,464.92 622.78,461.83 625.96,458.69 629.14,455.50 632.32,452.26 635.50,448.96 638.68,445.61 641.86,442.20 645.04,438.74 648.22,435.22 651.40,431.64 654.58,428.00 657.76,424.31 660.94,420.55 664.12,416.73 667.30,412.85 670.48,408.91 673.66,404.90 676.84,400.82 680.02,396.68 683.20,392.47 686.38,388.19 689.56,383.84 692.74,379.42 695.92,374.93 699.10,370.36 702.28,365.72 705.46,361.00 708.64,356.21 711.82,351.33 715.00,346.38 718.18,341.35 721.36,336.23 724.54,331.03 727.72,325.74 730.90,320.37 734.08,314.90 737.26,309.35 740.44,303.71 743.62,297.98 746.80,292.15 749.98,286.22 753.16,280.20 756.34,274.08 759.52,267.86 762.70,261.54 765.88,255.11 769.06,248.58 772.24,241.94 775.42,235.19 778.60,228.33 781.78,221.36 784.96,214.27 788.14,207.07 791.32,199.75 794.50,192.31 797.68,184.75 800.86,177.06 804.04,169.25 807.22,161.31 810.40,153.24 813.58,145.03 816.76,136.70 819.94,128.22 823.12,119.61 826.30,110.85 829.48,101.95 832.66,92.91 835.84,83.72 839.02,74.37 842.20,64.87 845.38,55.22 848.56,45.41 851.74,35.44 854.92,25.30 858.10,15.00"/>
<rect x="95.60" y="14.70" width="853.40" height="638.60" fill="none" stroke="#000" stroke-width="2.1"/>
<g stroke="#000" stroke-width="2.1"><line x1="95.6" y1="589.47" x2="101.80" y2="589.47"/><line x1="95.6" y1="525.64" x2="108.10" y2="525.64"/><line x1="95.6" y1="461.81" x2="101.80" y2="461.81"/><line x1="95.6" y1="397.98" x2="108.10" y2="397.98"/><line x1="95.6" y1="334.15" x2="101.80" y2="334.15"/><line x1="95.6" y1="270.32" x2="108.10" y2="270.32"/><line x1="95.6" y1="206.49" x2="101.80" y2="206.49"/><line x1="95.6" y1="142.66" x2="108.10" y2="142.66"/><line x1="95.6" y1="78.83" x2="101.80" y2="78.83"/><line x1="152.34" y1="653.30" x2="152.34" y2="646.50"/><line x1="185.93" y1="653.30" x2="185.93" y2="646.50"/><line x1="209.77" y1="653.30" x2="209.77" y2="646.50"/><line x1="228.26" y1="653.30" x2="228.26" y2="646.50"/><line x1="243.37" y1="653.30" x2="243.37" y2="646.50"/><line x1="256.14" y1="653.30" x2="256.14" y2="646.50"/><line x1="267.21" y1="653.30" x2="267.21" y2="646.50"/><line x1="276.97" y1="653.30" x2="276.97" y2="646.50"/><line x1="285.70" y1="653.30" x2="285.70" y2="640.30"/><line x1="343.14" y1="653.30" x2="343.14" y2="646.50"/><line x1="376.73" y1="653.30" x2="376.73" y2="646.50"/><line x1="400.57" y1="653.30" x2="400.57" y2="646.50"/><line x1="419.06" y1="653.30" x2="419.06" y2="646.50"/><line x1="434.17" y1="653.30" x2="434.17" y2="646.50"/><line x1="446.94" y1="653.30" x2="446.94" y2="646.50"/><line x1="458.01" y1="653.30" x2="458.01" y2="646.50"/><line x1="467.77" y1="653.30" x2="467.77" y2="646.50"/><line x1="476.50" y1="653.30" x2="476.50" y2="640.30"/><line x1="533.94" y1="653.30" x2="533.94" y2="646.50"/><line x1="567.53" y1="653.30" x2="567.53" y2="646.50"/><line x1="591.37" y1="653.30" x2="591.37" y2="646.50"/><line x1="609.86" y1="653.30" x2="609.86" y2="646.50"/><line x1="624.97" y1="653.30" x2="624.97" y2="646.50"/><line x1="637.74" y1="653.30" x2="637.74" y2="646.50"/><line x1="648.81" y1="653.30" x2="648.81" y2="646.50"/><line x1="658.57" y1="653.30" x2="658.57" y2="646.50"/><line x1="667.30" y1="653.30" x2="667.30" y2="640.30"/><line x1="724.74" y1="653.30" x2="724.74" y2="646.50"/><line x1="758.33" y1="653.30" x2="758.33" y2="646.50"/><line x1="782.17" y1="653.30" x2="782.17" y2="646.50"/><line x1="800.66" y1="653.30" x2="800.66" y2="646.50"/><line x1="815.77" y1="653.30" x2="815.77" y2="646.50"/><line x1="828.54" y1="653.30" x2="828.54" y2="646.50"/><line x1="839.61" y1="653.30" x2="839.61" y2="646.50"/><line x1="849.37" y1="653.30" x2="849.37" y2="646.50"/><line x1="858.10" y1="653.30" x2="858.10" y2="640.30"/><line x1="915.54" y1="653.30" x2="915.54" y2="646.50"/></g>
<line x1="103.5" y1="504.8" x2="170.6" y2="504.8" stroke="#000" stroke-width="4.7" stroke-linecap="round"/>
<line x1="103.5" y1="542.3" x2="170.6" y2="542.3" stroke="#ff0000" stroke-width="4.7" stroke-linecap="round"/>
<line x1="103.5" y1="579.7" x2="170.6" y2="579.7" stroke="#0000ff" stroke-width="4.7" stroke-linecap="round"/>
<line x1="152.7" y1="46.9" x2="210.3" y2="46.9" stroke="#111" stroke-width="2"/>
<line x1="152.7" y1="55.3" x2="210.3" y2="55.3" stroke="#111" stroke-width="1.4"/>
<line x1="152.7" y1="64.1" x2="210.3" y2="64.1" stroke="#111" stroke-width="1.4"/>
<line x1="152.7" y1="72.9" x2="210.3" y2="72.9" stroke="#111" stroke-width="1.4"/>
<line x1="152.7" y1="80.7" x2="210.3" y2="80.7" stroke="#111" stroke-width="1.4"/>
<line x1="152.7" y1="89.3" x2="210.3" y2="89.3" stroke="#111" stroke-width="1.4"/>
<line x1="152.7" y1="97.1" x2="210.3" y2="97.1" stroke="#111" stroke-width="1.4"/>
<line x1="152.7" y1="106.1" x2="210.3" y2="106.1" stroke="#111" stroke-width="1.4"/>
<line x1="152.7" y1="111.0" x2="210.3" y2="111.0" stroke="#111" stroke-width="1.4"/>
<defs><clipPath id="k2"><rect x="152.7" y="142.1" width="57.6" height="64.4"/></clipPath><clipPath id="k3"><rect x="152.7" y="238.0" width="57.6" height="64.5"/></clipPath><clipPath id="k4"><rect x="152.7" y="334.0" width="57.6" height="64.4"/></clipPath><clipPath id="k5"><rect x="152.7" y="429.4" width="57.6" height="64.7"/></clipPath></defs>
<g clip-path="url(#k2)" stroke="#111" stroke-width="1.4">
<line x1="88.30" y1="206.50" x2="152.70" y2="142.10"/>
<line x1="99.90" y1="206.50" x2="164.30" y2="142.10"/>
<line x1="111.50" y1="206.50" x2="175.90" y2="142.10"/>
<line x1="123.10" y1="206.50" x2="187.50" y2="142.10"/>
<line x1="134.70" y1="206.50" x2="199.10" y2="142.10"/>
<line x1="146.30" y1="206.50" x2="210.70" y2="142.10"/>
<line x1="157.90" y1="206.50" x2="222.30" y2="142.10"/>
<line x1="169.50" y1="206.50" x2="233.90" y2="142.10"/>
<line x1="181.10" y1="206.50" x2="245.50" y2="142.10"/>
<line x1="192.70" y1="206.50" x2="257.10" y2="142.10"/>
<line x1="204.30" y1="206.50" x2="268.70" y2="142.10"/>
<line x1="83.10" y1="142.10" x2="147.50" y2="206.50"/>
<line x1="94.70" y1="142.10" x2="159.10" y2="206.50"/>
<line x1="106.30" y1="142.10" x2="170.70" y2="206.50"/>
<line x1="117.90" y1="142.10" x2="182.30" y2="206.50"/>
<line x1="129.50" y1="142.10" x2="193.90" y2="206.50"/>
<line x1="141.10" y1="142.10" x2="205.50" y2="206.50"/>
<line x1="152.70" y1="142.10" x2="217.10" y2="206.50"/>
<line x1="164.30" y1="142.10" x2="228.70" y2="206.50"/>
<line x1="175.90" y1="142.10" x2="240.30" y2="206.50"/>
<line x1="187.50" y1="142.10" x2="251.90" y2="206.50"/>
<line x1="199.10" y1="142.10" x2="263.50" y2="206.50"/>
</g>
<g clip-path="url(#k3)" stroke="#111" stroke-width="1.4">
<line x1="153.3" y1="238" x2="153.3" y2="302.5"/>
<line x1="165.3" y1="238" x2="165.3" y2="302.5"/>
<line x1="178.0" y1="238" x2="178.0" y2="302.5"/>
<line x1="190.5" y1="238" x2="190.5" y2="302.5"/>
<line x1="203.2" y1="238" x2="203.2" y2="302.5"/>
</g>
<g clip-path="url(#k4)" stroke="#111" stroke-width="1.4">
<line x1="81.30" y1="334.00" x2="145.70" y2="398.40"/>
<line x1="93.20" y1="334.00" x2="157.60" y2="398.40"/>
<line x1="105.10" y1="334.00" x2="169.50" y2="398.40"/>
<line x1="117.00" y1="334.00" x2="181.40" y2="398.40"/>
<line x1="128.90" y1="334.00" x2="193.30" y2="398.40"/>
<line x1="140.80" y1="334.00" x2="205.20" y2="398.40"/>
<line x1="152.70" y1="334.00" x2="217.10" y2="398.40"/>
<line x1="164.60" y1="334.00" x2="229.00" y2="398.40"/>
<line x1="176.50" y1="334.00" x2="240.90" y2="398.40"/>
<line x1="188.40" y1="334.00" x2="252.80" y2="398.40"/>
<line x1="200.30" y1="334.00" x2="264.70" y2="398.40"/>
</g>
<g clip-path="url(#k5)" stroke="#111" stroke-width="1.4">
<line x1="76.90" y1="494.10" x2="141.60" y2="429.40"/>
<line x1="88.90" y1="494.10" x2="153.60" y2="429.40"/>
<line x1="100.90" y1="494.10" x2="165.60" y2="429.40"/>
<line x1="112.90" y1="494.10" x2="177.60" y2="429.40"/>
<line x1="124.90" y1="494.10" x2="189.60" y2="429.40"/>
<line x1="136.90" y1="494.10" x2="201.60" y2="429.40"/>
<line x1="148.90" y1="494.10" x2="213.60" y2="429.40"/>
<line x1="160.90" y1="494.10" x2="225.60" y2="429.40"/>
<line x1="172.90" y1="494.10" x2="237.60" y2="429.40"/>
<line x1="184.90" y1="494.10" x2="249.60" y2="429.40"/>
<line x1="196.90" y1="494.10" x2="261.60" y2="429.40"/>
<line x1="208.90" y1="494.10" x2="273.60" y2="429.40"/>
</g>
<line x1="152.7" y1="142.1" x2="210.3" y2="142.1" stroke="#111" stroke-width="1.6"/>
<line x1="152.7" y1="206.5" x2="210.3" y2="206.5" stroke="#111" stroke-width="1.6"/>
<line x1="152.7" y1="238.0" x2="210.3" y2="238.0" stroke="#111" stroke-width="1.6"/>
<line x1="152.7" y1="302.5" x2="210.3" y2="302.5" stroke="#111" stroke-width="1.6"/>
<line x1="152.7" y1="334.0" x2="210.3" y2="334.0" stroke="#111" stroke-width="1.6"/>
<line x1="152.7" y1="398.4" x2="210.3" y2="398.4" stroke="#111" stroke-width="1.6"/>
<line x1="152.7" y1="429.4" x2="210.3" y2="429.4" stroke="#111" stroke-width="1.6"/>
<line x1="152.7" y1="494.1" x2="210.3" y2="494.1" stroke="#111" stroke-width="1.6"/>
<g class="serif" font-size="34.6" fill="#000" text-anchor="end">
<text transform="translate(82,25.2) scale(0.93,1)">100</text>
<text transform="translate(82,153.0) scale(0.93,1)">80</text>
<text transform="translate(82,280.7) scale(0.93,1)">60</text>
<text transform="translate(82,408.4) scale(0.93,1)">40</text>
<text transform="translate(82,536.0) scale(0.93,1)">20</text>
<text transform="translate(82,663.5) scale(0.93,1)">0</text>
</g>
<text class="serif" font-size="35" transform="translate(95.6,689.6) scale(0.92,1)">0</text>
<text class="serif" font-size="32.8" transform="translate(24.6,333.2) rotate(-90)" text-anchor="middle">Passing /%</text>
<text class="serif" font-size="30" font-style="italic" x="477.5" y="702.8">d</text>
<text class="serif" font-size="30" x="492.3" y="702.6" stroke="#000" stroke-width="0.5">/</text>
<text class="sans" font-size="30.5" transform="translate(511.0,702.8) scale(0.95,1)">m</text>
<text class="sans" font-size="30.5" transform="translate(538.9,702.8) scale(0.95,1)">m</text>
<text class="serif" font-size="33" font-style="italic" x="950.2" y="684.9">d</text>
<g class="serif" font-size="27" fill="#000">
<text x="177.8" y="514.6">Pre-test gradation curve</text>
<text x="177.8" y="552.3">Gradation curve after test</text>
<text x="177.8" y="590.1">Limit gradation curve</text>
</g>
<g class="serif" font-size="34.8" fill="#000" stroke="#fff" stroke-width="0.35">
<text transform="translate(219.3,84.3) scale(0.88,1)">S</text><text transform="translate(237.6,84.3) scale(0.84,1)">1</text>
<text transform="translate(221.0,171.1) scale(0.88,1)">S</text><text transform="translate(239.4,171.1) scale(0.84,1)">2</text>
<text transform="translate(222.6,267.5) scale(0.88,1)">S</text><text transform="translate(240.8,267.5) scale(0.84,1)">3</text>
<text transform="translate(222.6,365.8) scale(0.88,1)">S</text><text transform="translate(240.8,365.8) scale(0.84,1)">4</text>
<text transform="translate(222.6,460.6) scale(0.88,1)">S</text><text transform="translate(240.8,460.6) scale(0.84,1)">5</text>
</g>
<g class="serif" font-size="25.3" fill="#000" stroke="#fff" stroke-width="0.3">
<text transform="translate(364.6,37) scale(0.85,1)">0</text>
<text transform="translate(377.2,37) scale(0.85,1)">.</text>
<text transform="translate(389.0,37) scale(0.85,1)">0</text>
<text transform="translate(401.2,37) scale(0.85,1)">7</text>
<text transform="translate(412.6,37) scale(0.85,1)">4</text>
<text transform="translate(424.8,37) scale(0.6,1.0)">mm</text>
</g>
</svg>
</body>
</html>
